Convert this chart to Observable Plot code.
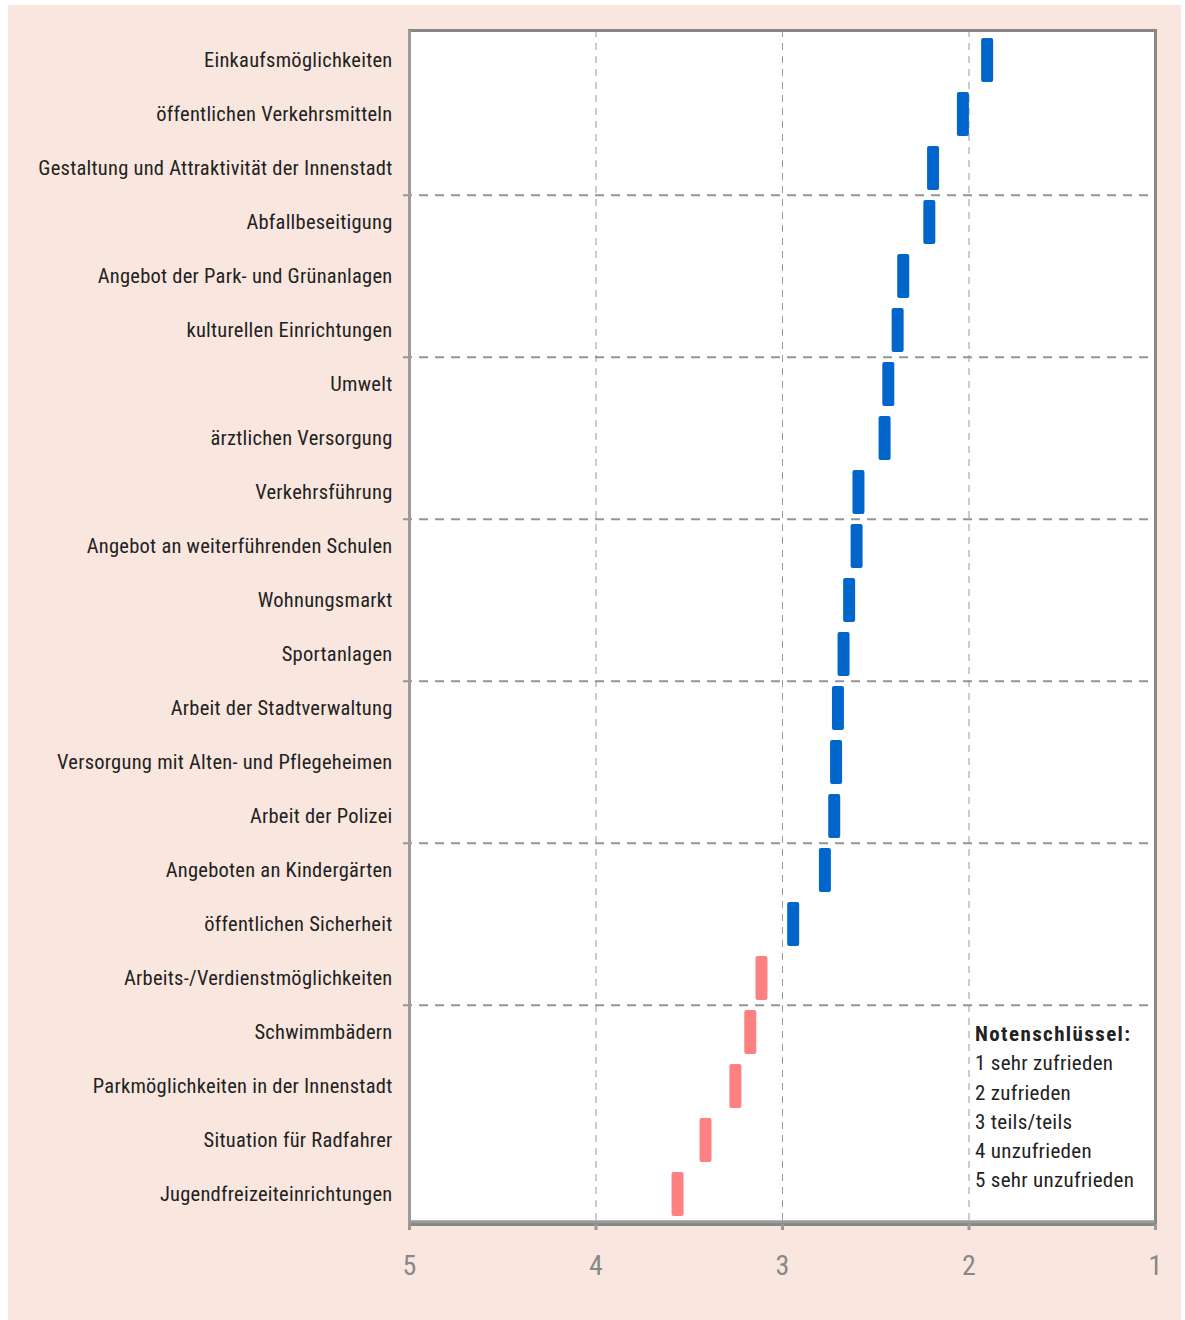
<!DOCTYPE html>
<html>
<head>
<meta charset="utf-8">
<script src="https://cdn.jsdelivr.net/npm/d3@7"></script>
<script src="https://cdn.jsdelivr.net/npm/@observablehq/plot@0.6"></script>
<style>
  html, body { margin: 0; padding: 0; background: #ffffff; }
  #panel { position: absolute; left: 8px; top: 5px; width: 1173px; height: 1315px; background: #f9e7df; }
  #panel svg { position: absolute; left: 0; top: 0; }
  #panel svg text { font-weight: 400; letter-spacing: 0.25px; }
  #legend { position: absolute; z-index: 2; left: 967px; top: 1015px; font-family: "Roboto Condensed", sans-serif; font-weight: 400; font-size: 21px; line-height: 29.3px; color: #222; letter-spacing: 0.3px; }
  #legend b { font-weight: 700; letter-spacing: 1.4px; }
</style>
</head>
<body>
<div id="panel">
  <div id="legend"></div>
</div>
<script>
const categories = [
  "Einkaufsmöglichkeiten",
  "öffentlichen Verkehrsmitteln",
  "Gestaltung und Attraktivität der Innenstadt",
  "Abfallbeseitigung",
  "Angebot der Park- und Grünanlagen",
  "kulturellen Einrichtungen",
  "Umwelt",
  "ärztlichen Versorgung",
  "Verkehrsführung",
  "Angebot an weiterführenden Schulen",
  "Wohnungsmarkt",
  "Sportanlagen",
  "Arbeit der Stadtverwaltung",
  "Versorgung mit Alten- und Pflegeheimen",
  "Arbeit der Polizei",
  "Angeboten an Kindergärten",
  "öffentlichen Sicherheit",
  "Arbeits-/Verdienstmöglichkeiten",
  "Schwimmbädern",
  "Parkmöglichkeiten in der Innenstadt",
  "Situation für Radfahrer",
  "Jugendfreizeiteinrichtungen"
];
const grades = [1.90, 2.03, 2.19, 2.21, 2.35, 2.38, 2.43, 2.45, 2.59, 2.60, 2.64, 2.67, 2.70, 2.71, 2.72, 2.77, 2.94, 3.11, 3.17, 3.25, 3.41, 3.56];
const xTicks = [5, 4, 3, 2, 1];
const groupStarts = [3, 6, 9, 12, 15, 18];
const legendTitle = "Notenschlüssel:";
const legendLines = ["1 sehr zufrieden", "2 zufrieden", "3 teils/teils", "4 unzufrieden", "5 sehr unzufrieden"];

const data = categories.map((c, i) => ({cat: c, v: grades[i]}));

const W = 1173, H = 1315, mT = 25, mB = 96, mL = 401, mR = 26;
const bw = (H - mT - mB) / categories.length;
const font = '"Roboto Condensed", sans-serif';

const chart = Plot.plot({
  width: W,
  height: H,
  marginTop: mT,
  marginBottom: mB,
  marginLeft: mL,
  marginRight: mR,
  style: {background: "transparent", fontFamily: font},
  x: {domain: [5, 1], axis: null},
  y: {domain: categories, padding: 0, axis: null},
  marks: [
    Plot.frame({fill: "#ffffff"}),
    Plot.ruleX([4, 3, 2], {stroke: "#999", strokeWidth: 1, strokeDasharray: "7,6"}),
    Plot.ruleY(groupStarts.map(i => categories[i]), {x1: 5, x2: 1, dy: -bw / 2, insetLeft: -6, stroke: "#959595", strokeWidth: 2, strokeDasharray: "9,7"}),
    Plot.barX(data, {
      x1: "v", x2: "v", y: "cat",
      insetLeft: -6, insetRight: -6, insetTop: 5, insetBottom: 5,
      rx: 2,
      fill: d => d.v > 3 ? "#ff8080" : "#0066cc"
    }),
    Plot.frame({stroke: "#878787", strokeWidth: 3}),
    Plot.ruleX([5], {stroke: "#9b9b9b", strokeWidth: 3}),
    Plot.ruleY([categories[categories.length - 1]], {x1: 5, x2: 1, dy: bw / 2, stroke: "#9b9b9b", strokeWidth: 3}),
    Plot.axisX({ticks: xTicks, tickFormat: d => String(d), label: null, tickSize: 6, tickPadding: 25, stroke: "#999", strokeWidth: 3, color: "#888", fontSize: 28, fontFamily: font}),
    Plot.axisY({label: null, tickSize: 0, tickPadding: 17, fontSize: 20.5, color: "#222", fontFamily: font})
  ]
});
document.getElementById("panel").appendChild(chart);

const lg = document.getElementById("legend");
lg.innerHTML = "<b>" + legendTitle + "</b><br>" + legendLines.join("<br>");
</script>
</body>
</html>
